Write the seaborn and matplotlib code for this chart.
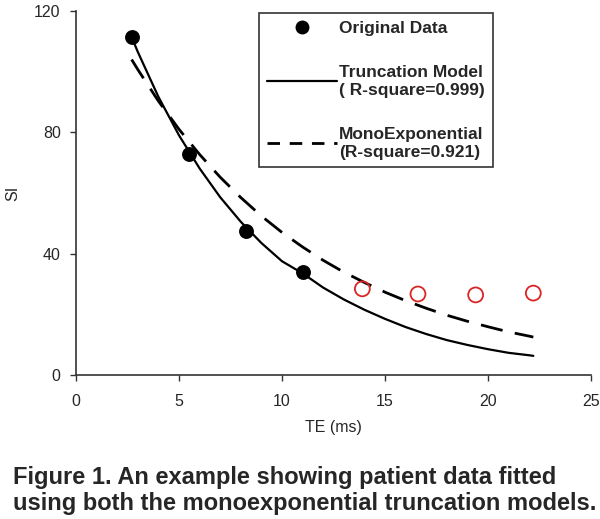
import numpy as np
import pandas as pd
import matplotlib
matplotlib.use("Agg")
import matplotlib.pyplot as plt
from matplotlib.lines import Line2D
import seaborn as sns

# measured points
te_data = [2.7, 5.5, 8.25, 11.0]
si_data = [111.4, 73.0, 47.5, 34.0]
# late echoes (open red circles, not in legend)
te_late = [13.9, 16.6, 19.4, 22.2]
si_late = [28.4, 26.7, 26.4, 27.0]

# fitted curves
te_fit = [2.7, 3, 4, 5, 6, 7, 8, 9, 10, 11, 12, 13, 14, 15, 16, 17, 18, 19, 20, 21, 22, 22.2]
si_trunc = [111.4, 106.5, 91.7, 79.0, 68.1, 58.6, 50.5, 43.5, 37.5, 33.5, 28.8, 24.9,
            21.5, 18.5, 15.8, 13.5, 11.5, 9.9, 8.5, 7.3, 6.5, 6.3]
si_mono = [104.0, 100.7, 90.3, 81.0, 72.7, 65.2, 58.5, 52.4, 47.0, 42.2, 37.8, 33.9,
           30.5, 27.3, 24.5, 22.0, 19.7, 17.7, 15.9, 14.2, 12.8, 12.5]

x_ticks = [0, 5, 10, 15, 20, 25]
y_ticks = [0, 40, 80, 120]

legend_labels = ["Original Data",
                 "Truncation Model\n( R-square=0.999)",
                 "MonoExponential\n(R-square=0.921)"]
caption = ("Figure 1. An example showing patient data fitted\n"
           "using both the monoexponential truncation models.")

sns.set_style("ticks")
plt.rcParams["font.family"] = ["Liberation Sans", "DejaVu Sans"]

fig = plt.figure(figsize=(6, 5.19), dpi=100)
ax = fig.add_axes([0.1267, 0.2775, 0.8583, 0.7013])

df_fit = pd.DataFrame({"TE": te_fit, "trunc": si_trunc, "mono": si_mono})
sns.lineplot(data=df_fit, x="TE", y="trunc", ax=ax, color="black", linewidth=1.6)
sns.lineplot(data=df_fit, x="TE", y="mono", ax=ax, color="black", linewidth=2.0,
             linestyle=(0, (8, 4.5)))
sns.scatterplot(x=te_data, y=si_data, ax=ax, color="black", s=115, edgecolor="black",
                linewidth=0, zorder=5)
sns.scatterplot(x=te_late, y=si_late, ax=ax, facecolor="none", edgecolor="#d92525",
                s=115, linewidth=1.3, zorder=5)

ax.set_xlim(0, 25)
ax.set_ylim(0, 120)
ax.set_xticks(x_ticks)
ax.set_yticks(y_ticks)
ax.tick_params(axis="both", labelsize=11.5, length=4, width=1, color="#333333",
               direction="out")
ax.tick_params(axis="x", pad=10)
ax.tick_params(axis="y", pad=7)
sns.despine(ax=ax)
for side in ["left", "bottom"]:
    ax.spines[side].set_color("#333333")
    ax.spines[side].set_linewidth(1.2)

ax.set_xlabel("TE (ms)", fontsize=11.5)
ax.set_ylabel("SI", fontsize=11.5)
ax.xaxis.set_label_coords(0.5, -0.125)
ax.yaxis.set_label_coords(-0.108, 0.5)

handles = [
    Line2D([], [], marker="o", color="black", linestyle="none", markersize=9),
    Line2D([], [], color="black", linewidth=1.6),
    Line2D([], [], color="black", linewidth=2.0, linestyle=(0, (4.5, 3.5))),
]
leg = fig.legend(handles, legend_labels, loc="upper left",
                 bbox_to_anchor=(0.418, 0.992), bbox_transform=fig.transFigure,
                 prop={"weight": "bold", "size": 12.5}, frameon=True, fancybox=False,
                 edgecolor="black", handlelength=4.0, handletextpad=0.15,
                 labelspacing=1.7, borderpad=0.45)
leg.get_frame().set_linewidth(1.2)

fig.text(0.022, 0.008, caption, fontsize=17, fontweight="bold", ha="left",
         va="bottom", linespacing=1.15)

fig.savefig("out.png", dpi=100)
